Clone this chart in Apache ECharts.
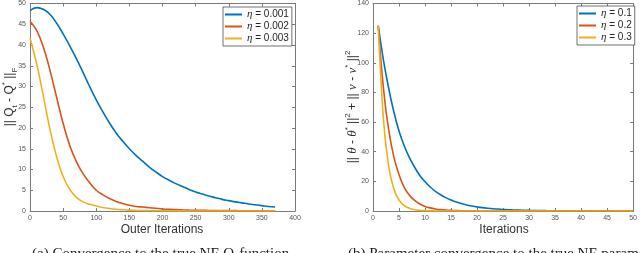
<!DOCTYPE html>
<html><head><meta charset="utf-8">
<script src="https://cdn.jsdelivr.net/npm/echarts@6/dist/echarts.min.js"></script>
<style>html,body{margin:0;padding:0;background:#fff}#c{width:640px;height:253px}</style>
</head><body><div id="c"></div>
<script>
// ---- data: left panel (Outer Iterations) ----
const leftX = [0,10,20,30,40,50,60,70,80,90,100,110,120,130,140,150,160,170,180,190,200,210,220,230,240,250,260,270,280,290,300,310,320,330,340,350,360,370];
const leftBlue = [48.3,49.0,48.6,47.4,45.3,42.7,39.8,36.7,33.4,30.0,26.8,23.9,21.2,18.8,16.8,15.0,13.4,12.0,10.6,9.4,8.3,7.4,6.6,5.9,5.2,4.6,4.1,3.6,3.2,2.8,2.5,2.2,1.95,1.7,1.5,1.3,1.1,0.95];
const leftRed = [45.7,43.5,39.6,34.0,27.5,21.1,15.8,11.9,9.0,6.8,5.0,3.9,3.0,2.3,1.8,1.4,1.1,0.95,0.8,0.65,0.5,0.4,0.33,0.27,0.22,0.18,0.15,0.13,0.11,0.1,0.09,0.08,0.07,0.06,0.06,0.05,0.05,0.05];
const leftYellow = [41.7,35.5,27.8,19.8,13.2,8.3,5.2,3.3,2.2,1.6,1.2,0.85,0.6,0.42,0.3,0.2,0.14,0.1,0.07,0.05,0.04,0.03,0.02,0.02,0.01,0.01,0.01,0,0,0,0,0,0,0,0,0,0,0];
const leftNames = ['η = 0.001','η = 0.002','η = 0.003'];
const leftXTicks = ['0','50','100','150','200','250','300','350','400'];
const leftYTicks = ['0','5','10','15','20','25','30','35','40','45','50'];

// ---- data: right panel (Iterations) ----
const rightX = [1,2,3,4,5,6,7,8,9,10,11,12,13,14,15,16,17,18,19,20,21,22,23,24,25,26,27,28,29,30,31,32,33,34,35,36,37,38,39,40,41,42,43,44,45,46,47,48,49,50];
const rightBlue = [125,102,83,67,54,44,36,29.5,24,19.7,16.2,13.3,11,9,7.4,6.1,5,4.1,3.4,2.8,2.3,1.9,1.55,1.3,1.05,0.85,0.7,0.58,0.48,0.4,0.33,0.27,0.22,0.18,0.15,0.12,0.1,0.08,0.07,0.06,0.05,0.04,0.03,0.03,0.02,0.02,0.02,0.01,0.01,0.01];
const rightRed = [125,83,55,36.5,24.5,16,10.7,7.1,4.7,3.1,2.1,1.4,0.9,0.6,0.4,0.27,0.18,0.12,0.08,0.05,0.03,0.02,0.01,0,0,0,0,0,0,0,0,0,0,0,0,0,0,0,0,0,0,0,0,0,0,0,0,0,0,0];
const rightYellow = [125,62,30.5,15,7.4,3.6,1.8,0.9,0.45,0.22,0.11,0.05,0.02,0.01,0,0,0,0,0,0,0,0,0,0,0,0,0,0,0,0,0,0,0,0,0,0,0,0,0,0,0,0,0,0,0,0,0,0,0,0];
const rightNames = ['η = 0.1','η = 0.2','η = 0.3'];
const rightXTicks = ['0','5','10','15','20','25','30','35','40','45','50'];
const rightYTicks = ['0','20','40','60','80','100','120','140'];

const colors = ['#0072BD','#D95319','#EDB120'];
const FONT = '"Liberation Sans", Arial, sans-serif';
const SERIF = '"Liberation Serif", "DejaVu Serif", serif';
const axisCol = '#7a7a7a';

function pairs(xs, ys){ return xs.map((x,i)=>[x, ys[i]]); }

function mkAxis(grid, min, max, interval, show, pos){
  return {type:'value', gridIndex:grid, min, max, interval, position:pos,
    axisLine:{show:true, onZero:false, lineStyle:{color:axisCol, width:1}},
    axisTick:{show:true, inside:true, length:3, lineStyle:{color:axisCol}},
    axisLabel:{show:show, fontSize:7, color:'#555', fontFamily:FONT, margin:4},
    splitLine:{show:false}};
}

const lx = parseFloat(leftXTicks[leftXTicks.length-1]);
const ly = parseFloat(leftYTicks[leftYTicks.length-1]);
const rx = parseFloat(rightXTicks[rightXTicks.length-1]);
const ry = parseFloat(rightYTicks[rightYTicks.length-1]);

function ser(name, xs, ys, ci, ax, smooth){
  return {name, type:'line', xAxisIndex:ax, yAxisIndex:ax, data:pairs(xs, ys),
    showSymbol:false, symbol:'none', smooth:smooth, lineStyle:{width:1.6, color:colors[ci]},
    itemStyle:{color:colors[ci]}, z: 2+ci, animation:false};
}

const legendRich = {i:{fontStyle:'italic', fontFamily:SERIF, fontSize:11, color:'#262626'}, t:{fontFamily:FONT, fontSize:10, color:'#262626'}};
function legendFmt(n){ return '{i|η}{t|' + n.slice(1) + '}'; }

const option = {
  animation:false,
  backgroundColor:'#fff',
  grid:[
    {left:30, top:3, width:265, height:208},
    {left:373, top:3, width:262, height:208}
  ],
  xAxis:[
    mkAxis(0, 0, lx, 50, true, 'bottom'),
    mkAxis(0, 0, lx, 50, false, 'top'),
    mkAxis(1, 0, rx, 5, true, 'bottom'),
    mkAxis(1, 0, rx, 5, false, 'top')
  ],
  yAxis:[
    mkAxis(0, 0, ly, 5, true, 'left'),
    mkAxis(0, 0, ly, 5, false, 'right'),
    mkAxis(1, 0, ry, 20, true, 'left'),
    mkAxis(1, 0, ry, 20, false, 'right')
  ],
  legend:[
    {data:leftNames, left:223, top:7, orient:'vertical', itemWidth:17, itemHeight:2, itemGap:1, icon:'rect',
     padding:[2,3,2,2], borderColor:'#333', borderWidth:0.7, backgroundColor:'#fff',
     formatter:legendFmt, textStyle:{rich:legendRich, fontSize:10}, selectedMode:false},
    {data:rightNames, left:577, top:6, orient:'vertical', itemWidth:17, itemHeight:2, itemGap:1, icon:'rect',
     padding:[2,3,2,2], borderColor:'#333', borderWidth:0.7, backgroundColor:'#fff',
     formatter:legendFmt, textStyle:{rich:legendRich, fontSize:10}, selectedMode:false}
  ],
  series:[
    ser(leftNames[0], leftX, leftBlue, 0, 0, 0.4),
    ser(leftNames[1], leftX, leftRed, 1, 0, 0.4),
    ser(leftNames[2], leftX, leftYellow, 2, 0, 0.4),
    ser(rightNames[0], rightX, rightBlue, 0, 2, 0.3),
    ser(rightNames[1], rightX, rightRed, 1, 2, 0.3),
    ser(rightNames[2], rightX, rightYellow, 2, 2, 0.3)
  ],
  graphic:[
    {type:'text', x:162, y:230, style:{text:'Outer Iterations', fontFamily:FONT, fontSize:12, fill:'#333', align:'center', verticalAlign:'middle'}},
    {type:'text', x:504, y:230, style:{text:'Iterations', fontFamily:FONT, fontSize:12, fill:'#333', align:'center', verticalAlign:'middle'}},
    {type:'text', x:10, y:97, rotation:Math.PI/2, style:{
      text:'{n||| Q}{sub|t}{n| - Q}{sup|*}{n| ||}{sub|F}',
      align:'center', verticalAlign:'middle', fill:'#333',
      rich:{n:{fontFamily:FONT, fontSize:12, lineHeight:18, fill:'#333'},
            sub:{fontFamily:FONT, fontSize:8, lineHeight:18, verticalAlign:'bottom', fill:'#333'},
            sup:{fontFamily:FONT, fontSize:8, lineHeight:18, verticalAlign:'top', fill:'#333'}}}},
    {type:'text', x:353, y:107, rotation:Math.PI/2, style:{
      text:'{n||| }{i|θ}{n| - }{i|θ}{sup|*}{n| ||}{sup|2}{n| + || }{i|ν}{n| - }{i|ν}{sup|*}{n| ||}{sup|2}',
      align:'center', verticalAlign:'middle', fill:'#333',
      rich:{n:{fontFamily:FONT, fontSize:12, lineHeight:18, fill:'#333'},
            i:{fontFamily:SERIF, fontStyle:'italic', fontSize:13, lineHeight:18, fill:'#333'},
            sup:{fontFamily:FONT, fontSize:8, lineHeight:18, verticalAlign:'top', fill:'#333'}}}},
    {type:'text', x:32, y:247, style:{text:'(a) Convergence to the true NE Q-function', fontFamily:SERIF, fontSize:15, fill:'#222', align:'left', verticalAlign:'top'}},
    {type:'text', x:348, y:247, style:{text:'(b) Parameter convergence to the true NE parameters', fontFamily:SERIF, fontSize:15, fill:'#222', align:'left', verticalAlign:'top'}}
  ]
};
const chart = echarts.init(document.getElementById('c'), null, {renderer:'canvas'});
chart.setOption(option);
</script>
</body></html>
